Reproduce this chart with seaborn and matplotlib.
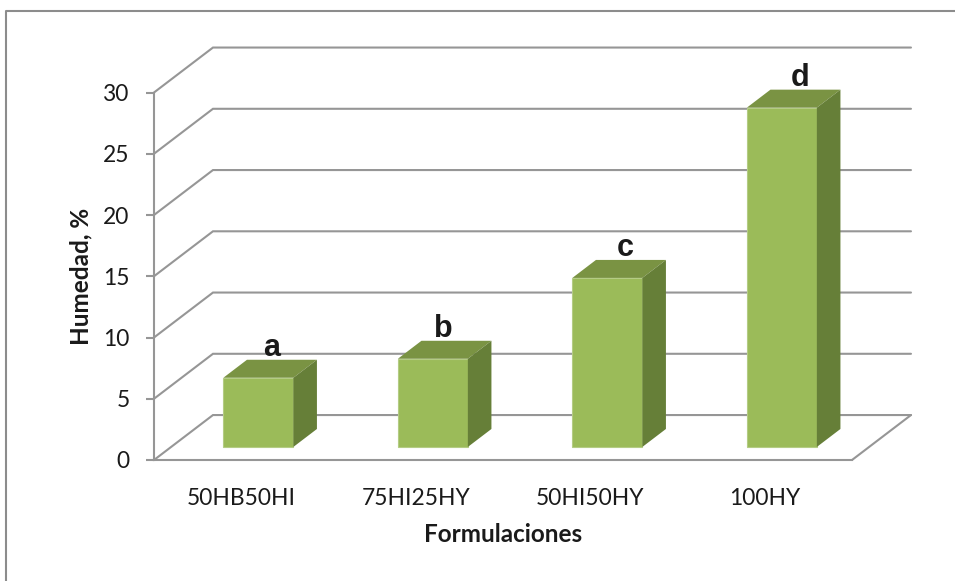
import matplotlib
matplotlib.use('Agg')
import matplotlib.pyplot as plt
from matplotlib.lines import Line2D
import seaborn as sns

#values
formulaciones = ['50HB50HI', '75HI25HY', '50HI50HY', '100HY']
humedad = [5.65, 7.2, 13.8, 27.7]
letras = ['a', 'b', 'c', 'd']
y_ticks = [0, 5, 10, 15, 20, 25, 30]

#colours of the three bar faces
c_front = '#9BBB59'
c_top = '#7A9343'
c_side = '#667F38'
c_grid = '#969696'

#depth of the fake 3D box, in data units
depth_x = 0.338
depth_y = 3.67
#bar starts/ends at these fractions of the depth
d0 = 0.29
d1 = 0.69
#letter shift from the bar centre, in categories
letter_dx = [0.075, 0.06, 0.10, 0.105]

sns.set_theme(style='ticks')
plt.rcParams['font.family'] = ['Lato', 'DejaVu Sans']

W, H = 955, 581
fig = plt.figure(figsize=(W / 100, H / 100), dpi=100)
ax = fig.add_axes([154 / W, 1 - 460 / H, (852 - 154) / W, (460 - 92.5) / H])

ax = sns.barplot(x=formulaciones, y=humedad, color=c_front, saturation=1,
                 width=0.401, ax=ax, zorder=3, linewidth=0.8,
                 edgecolor='#B4CC84')
ax.set_xlim(-0.5, 3.5)
ax.set_ylim(0, 30)

#back wall, left wall and floor lines
for t in y_ticks:
    ax.plot([-0.5, -0.5 + depth_x, 3.5 + depth_x], [t, t + depth_y, t + depth_y],
            color=c_grid, lw=1.5, clip_on=False, zorder=1, solid_joinstyle='miter')
ax.plot([3.5, 3.5 + depth_x], [0, depth_y], color=c_grid, lw=1.5, clip_on=False, zorder=1)

#shift front faces back and add the top and side faces
sx0, sy0 = d0 * depth_x, d0 * depth_y
sx1, sy1 = d1 * depth_x, d1 * depth_y
for i, p in enumerate(ax.patches):
    x, w, h = p.get_x(), p.get_width(), p.get_height()
    p.set_x(x + sx0)
    p.set_y(sy0)
    p.set_clip_on(False)
    xl, xr = x + sx0, x + w + sx0
    top = h + sy0
    ddx, ddy = sx1 - sx0, sy1 - sy0
    ax.fill([xl, xr, xr + ddx, xl + ddx], [top, top, top + ddy, top + ddy],
            color=c_top, lw=0, clip_on=False, zorder=3)
    ax.fill([xr, xr + ddx, xr + ddx, xr], [sy0, sy0 + ddy, top + ddy, top],
            color=c_side, lw=0, clip_on=False, zorder=3)
    ax.text(x + w / 2 + sx0 + letter_dx[i], top + 1.77, letras[i],
            family=['Liberation Sans'], fontweight='bold', fontsize=22, color='k',
            ha='center', va='baseline', zorder=5)

ax.set_yticks(y_ticks)
ax.tick_params(axis='y', length=6, width=1.5, color=c_grid, labelsize=16.4, pad=11.5,
               labelcolor='k')
ax.tick_params(axis='x', length=0, labelsize=16.4, pad=20, labelcolor='k')
ax.set_xlabel('Formulaciones', fontsize=17.5, fontweight='bold', labelpad=10, color='k')
ax.set_ylabel('Humedad, %', fontsize=17.5, fontweight='bold', labelpad=8, color='k')

sns.despine(ax=ax)
for s in ['left', 'bottom']:
    ax.spines[s].set_color(c_grid)
    ax.spines[s].set_linewidth(1.5)
ax.patch.set_alpha(0)

#outer chart frame, only top and left show in the picture
fig.add_artist(Line2D([5.5 / W, 5.5 / W, 1], [0, 1 - 11 / H, 1 - 11 / H],
                      color='#8C8C8C', lw=1.5))

fig.savefig('out.png', dpi=100)
